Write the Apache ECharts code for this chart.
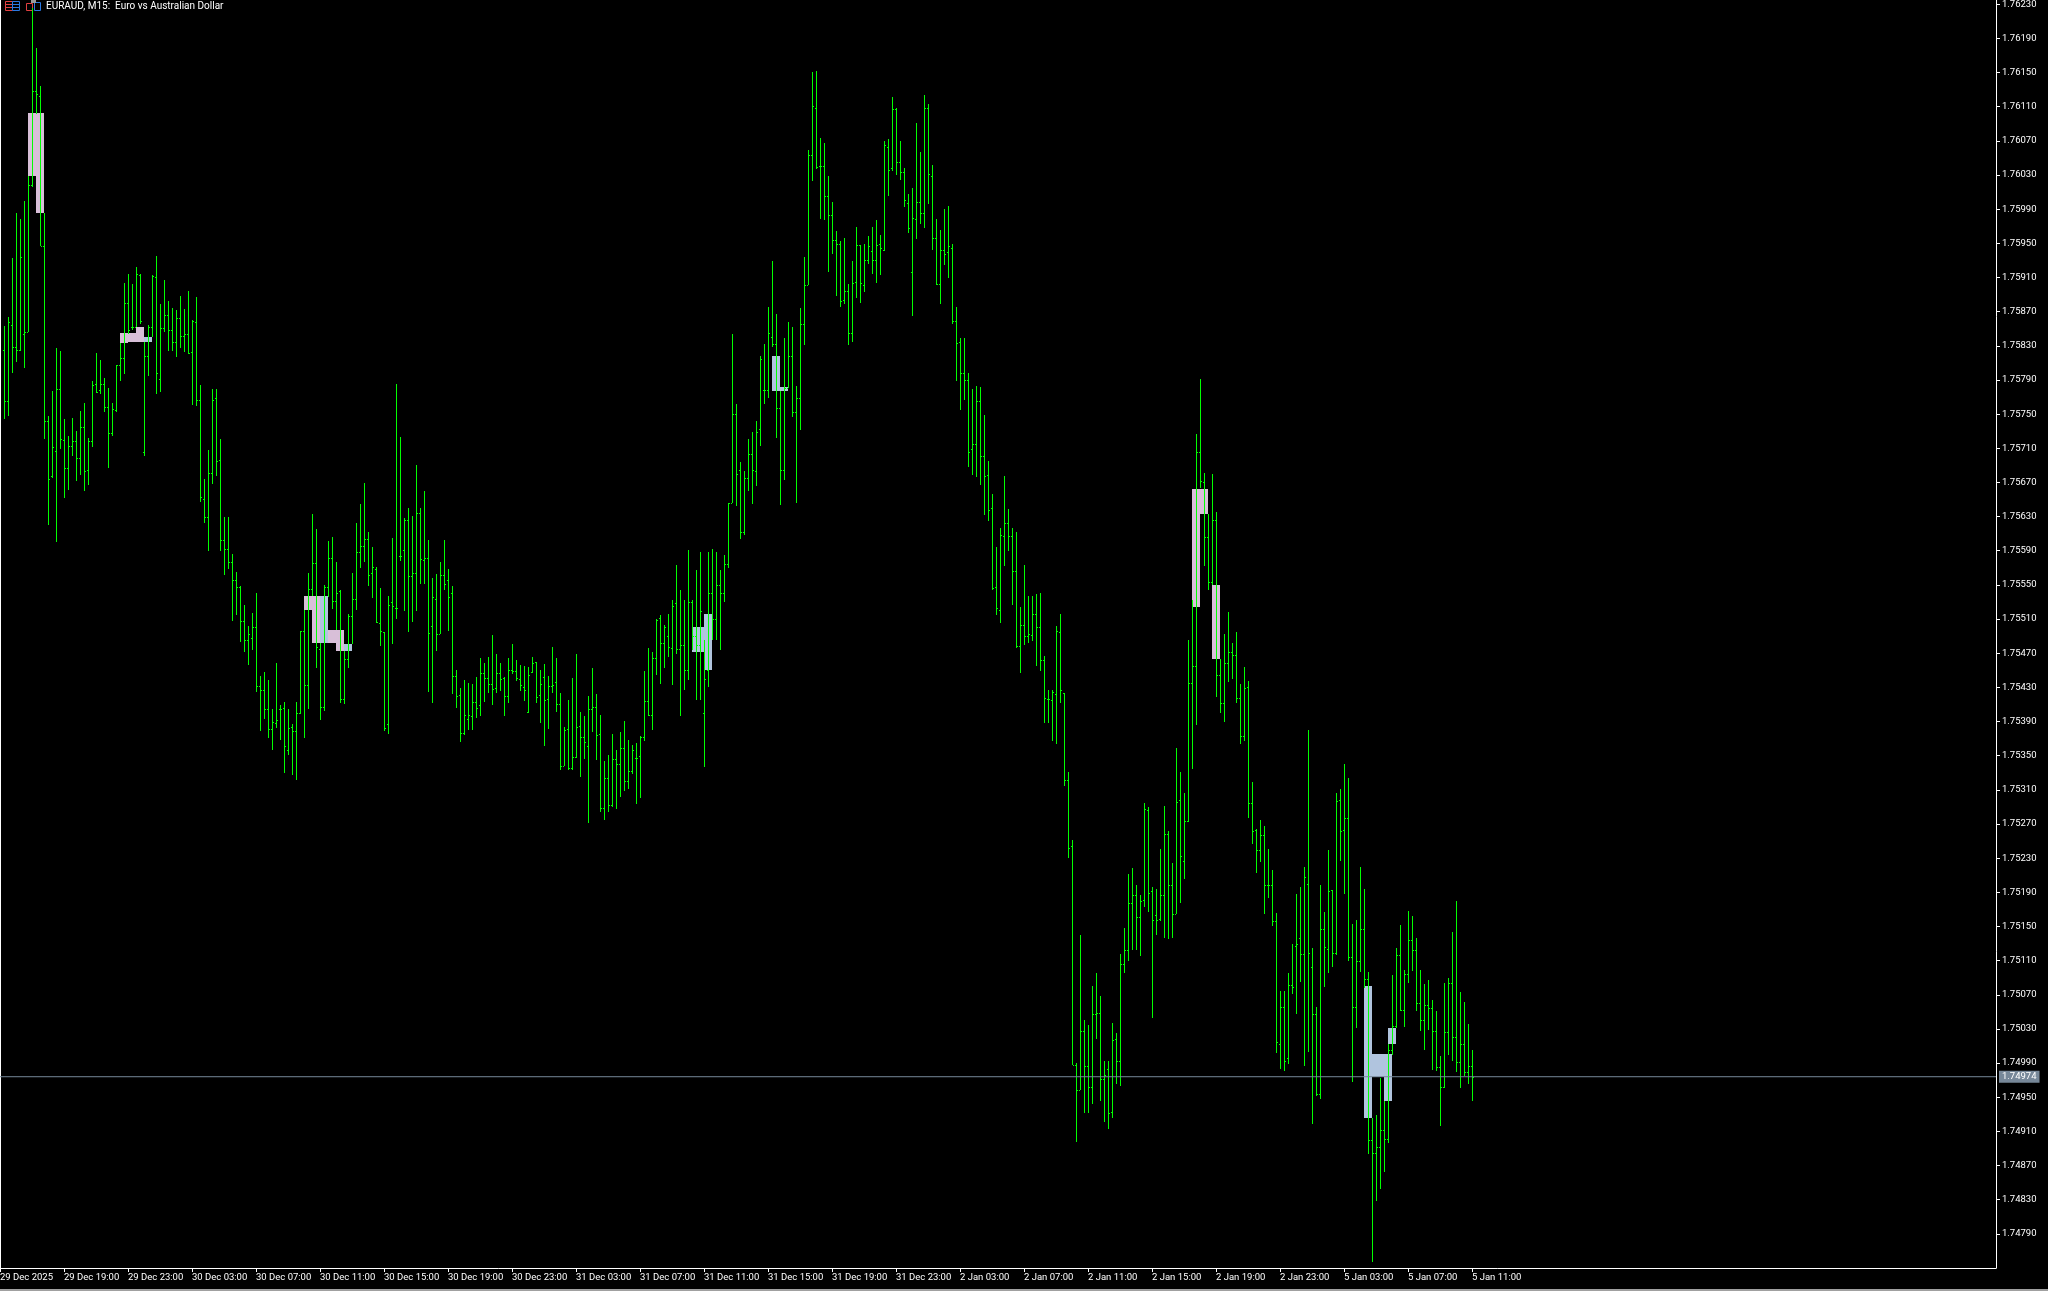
<!DOCTYPE html>
<html><head><meta charset="utf-8">
<style>html,body{margin:0;padding:0;background:#000}#c{width:2048px;height:1291px}</style>
<script src="https://cdn.jsdelivr.net/npm/echarts@6/dist/echarts.min.js"></script>
</head><body><div id="c"></div>
<script>
// Values are in points above 1.74000 (1 point = 0.00001), first entry is the bar after the one under the left edge.
const highs=[
1853,1864,1933,1986,1979,2000,2029,2226,2179,2134,
1985,1748,1777,1828,1824,1744,1724,1746,1730,1754,
1763,1722,1789,1822,1813,1792,1781,1763,1808,1833,
1904,1914,1902,1922,1914,1834,1854,1913,1935,1879,
1907,1882,1874,1872,1888,1873,1894,1860,1887,1784,
1674,1708,1779,1779,1721,1630,1629,1586,1565,1549,
1526,1502,1517,1540,1443,1448,1439,1405,1459,1409,
1413,1405,1387,1413,1496,1521,1564,1633,1616,1482,
1550,1601,1606,1577,1544,1473,1516,1564,1622,1645,
1669,1612,1594,1571,1546,1495,1537,1605,1785,1723,
1628,1640,1631,1691,1640,1660,1603,1558,1563,1577,
1603,1569,1549,1450,1429,1439,1435,1434,1442,1464,
1459,1466,1491,1469,1459,1442,1464,1481,1462,1456,
1455,1454,1466,1460,1450,1457,1443,1477,1464,1423,
1383,1415,1441,1469,1401,1397,1420,1453,1422,1398,
1344,1351,1375,1357,1378,1391,1368,1363,1365,1373,
1449,1476,1471,1510,1515,1503,1516,1532,1573,1544,
1532,1591,1532,1567,1589,1485,1589,1592,1589,1567,
1585,1646,1844,1762,1694,1683,1721,1729,1742,1818,
1832,1875,1929,1867,1777,1839,1858,1852,1783,1874,
1934,2059,2151,2152,2073,2068,2029,1998,1964,1953,
1956,1902,1929,1969,1948,1949,1959,1969,1977,1960,
2070,2072,2121,2109,2070,2038,2008,2015,2091,2057,
2124,2113,2042,1979,1966,1990,1994,1949,1875,1839,
1839,1798,1779,1783,1782,1749,1695,1656,1594,1617,
1678,1639,1617,1612,1524,1573,1537,1537,1539,1541,
1467,1427,1427,1502,1516,1423,1331,1251,990,1140,
1041,1035,1080,1096,1069,993,993,1037,1025,1118,
1148,1211,1218,1199,1187,1295,1290,1196,1194,1241,
1291,1262,1224,1359,1331,1306,1486,1532,1727,1791,
1681,1633,1680,1635,1463,1493,1518,1482,1495,1434,
1454,1438,1319,1264,1275,1268,1241,1216,1166,1074,
1074,1096,1129,1188,1196,1220,1380,1125,1056,1198,
1167,1239,1193,1306,1311,1340,1324,1153,1157,1220,
1194,1097,926,929,973,946,1012,1093,1125,1152,
1099,1168,1162,1137,1099,1083,1087,1064,1051,998,
1084,1090,1144,1180,1073,1061,1036,1005];
const lows=[
1744,1748,1798,1811,1824,1804,1846,2016,2101,1947,
1721,1620,1675,1600,1709,1652,1661,1701,1672,1679,
1660,1667,1711,1775,1774,1752,1687,1724,1752,1789,
1797,1844,1849,1852,1856,1701,1795,1840,1774,1776,
1846,1824,1824,1817,1828,1823,1820,1761,1759,1647,
1623,1590,1668,1677,1590,1562,1569,1508,1515,1483,
1471,1456,1474,1425,1379,1393,1371,1357,1382,1368,
1330,1351,1327,1322,1399,1371,1405,1537,1453,1392,
1402,1536,1522,1497,1412,1411,1453,1481,1521,1570,
1577,1549,1535,1505,1478,1379,1375,1481,1510,1578,
1519,1495,1507,1519,1551,1551,1425,1412,1473,1493,
1544,1496,1422,1406,1366,1374,1380,1380,1394,1397,
1413,1423,1409,1423,1426,1397,1412,1446,1438,1426,
1414,1400,1447,1412,1388,1361,1381,1423,1401,1333,
1338,1333,1333,1347,1325,1346,1271,1378,1345,1284,
1275,1284,1290,1288,1302,1309,1311,1329,1293,1300,
1367,1397,1380,1445,1434,1453,1465,1433,1469,1396,
1427,1439,1474,1415,1415,1337,1430,1485,1485,1474,
1530,1570,1646,1642,1604,1609,1660,1645,1666,1713,
1762,1769,1829,1722,1644,1673,1781,1747,1646,1731,
1831,1901,2023,2037,1979,1977,1916,1938,1888,1875,
1879,1831,1834,1886,1880,1893,1926,1914,1904,1913,
1941,2005,2035,2030,2024,1993,1962,1865,1955,1973,
1968,1996,1942,1901,1879,1925,1909,1856,1789,1755,
1767,1688,1679,1676,1667,1632,1625,1544,1515,1505,
1572,1590,1526,1476,1447,1480,1482,1484,1455,1449,
1388,1388,1367,1364,1412,1315,1230,988,897,958,
931,931,942,1018,946,921,913,926,965,963,
1096,1109,1123,1122,1115,1173,1167,1043,1140,1156,
1136,1135,1136,1164,1177,1205,1272,1334,1386,1663,
1572,1544,1550,1419,1400,1390,1436,1440,1412,1364,
1367,1277,1247,1213,1226,1165,1183,1151,1002,983,
981,989,1071,1048,1085,987,1003,919,952,948,
1079,1096,1103,1117,1227,1188,1109,968,1031,1097,
1078,884,757,828,843,863,896,1000,1031,1051,
1032,1084,1098,1051,1028,1005,1029,982,981,916,
961,999,992,980,961,975,965,946];
const opens=[
1825,1765,1854,1829,1825,1844,1846,2018,2129,2122,
1947,1742,1677,1707,1779,1720,1687,1713,1719,1699,
1735,1685,1718,1785,1778,1785,1758,1728,1755,1808,
1816,1880,1852,1852,1913,1706,1818,1852,1911,1791,
1851,1866,1848,1835,1862,1841,1844,1823,1858,1766,
1651,1629,1681,1769,1696,1603,1592,1577,1556,1548,
1508,1485,1488,1501,1432,1427,1405,1381,1388,1405,
1406,1357,1383,1379,1400,1496,1433,1545,1576,1475,
1407,1547,1582,1531,1543,1416,1463,1513,1534,1589,
1595,1604,1564,1569,1505,1495,1387,1530,1523,1584,
1591,1626,1561,1564,1634,1579,1582,1502,1534,1493,
1562,1556,1540,1443,1421,1376,1393,1396,1413,1409,
1447,1441,1434,1429,1447,1441,1420,1450,1449,1440,
1430,1401,1448,1460,1421,1442,1416,1432,1436,1410,
1338,1381,1336,1349,1385,1372,1361,1405,1407,1375,
1289,1324,1292,1346,1340,1359,1320,1332,1347,1350,
1372,1414,1398,1464,1511,1482,1490,1476,1529,1475,
1480,1450,1530,1490,1480,1400,1450,1540,1510,1550,
1540,1575,1646,1750,1685,1612,1675,1703,1683,1733,
1778,1778,1840,1832,1757,1684,1781,1818,1752,1769,
1856,1901,2053,2108,2041,2041,2006,1983,1954,1949,
1884,1894,1845,1905,1948,1901,1930,1941,1931,1949,
1942,2063,2038,2107,2045,2034,1997,1917,1979,1999,
1985,2109,2029,1956,1902,1942,1940,1944,1859,1834,
1798,1790,1709,1715,1765,1701,1679,1640,1547,1521,
1607,1623,1607,1566,1478,1503,1490,1491,1516,1501,
1462,1416,1415,1422,1495,1423,1321,1244,988,958,
1028,986,962,1048,1049,971,983,933,1018,993,
1106,1122,1178,1187,1161,1181,1286,1191,1163,1159,
1187,1258,1199,1164,1298,1227,1273,1435,1455,1706,
1671,1606,1553,1626,1444,1412,1458,1471,1468,1417,
1373,1430,1295,1263,1240,1257,1199,1199,1156,1012,
1056,996,1082,1127,1137,1118,1200,1103,1047,954,
1147,1124,1193,1119,1298,1263,1277,1114,1056,1110,
1147,1089,900,885,892,912,901,1005,1034,1116,
1052,1094,1134,1122,1060,1041,1058,1055,1028,985,
962,1026,1084,1021,991,1012,980,987];
const closes=[
1765,1858,1829,1825,1934,1846,2018,2129,2125,1947,
1742,1674,1712,1779,1721,1687,1713,1719,1699,1735,
1683,1718,1784,1776,1785,1758,1728,1756,1808,1816,
1880,1848,1852,1914,1859,1818,1852,1912,1798,1851,
1866,1848,1835,1862,1841,1844,1822,1859,1766,1653,
1630,1681,1767,1695,1603,1592,1577,1556,1547,1508,
1486,1493,1501,1432,1427,1405,1381,1390,1392,1405,
1361,1382,1379,1400,1496,1433,1545,1576,1477,1407,
1547,1582,1531,1541,1416,1463,1513,1534,1589,1595,
1604,1562,1571,1506,1496,1382,1526,1525,1523,1584,
1626,1561,1564,1634,1580,1582,1494,1536,1493,1562,
1551,1536,1443,1420,1376,1398,1398,1413,1406,1447,
1441,1434,1428,1447,1440,1420,1450,1449,1441,1433,
1427,1445,1459,1419,1434,1415,1432,1433,1410,1338,
1380,1335,1349,1384,1372,1366,1405,1407,1374,1289,
1324,1292,1346,1340,1359,1320,1332,1357,1347,1372,
1414,1398,1464,1509,1482,1501,1477,1525,1475,1480,
1450,1530,1490,1480,1520,1440,1540,1510,1550,1540,
1575,1646,1750,1680,1612,1675,1703,1684,1729,1815,
1778,1845,1832,1757,1684,1781,1818,1752,1769,1856,
1901,2053,2111,2040,2041,2006,1983,1954,1949,1882,
1894,1845,1904,1948,1903,1930,1947,1931,1948,1944,
2065,2036,2107,2045,2033,2001,1968,1980,1999,1985,
2109,2031,1956,1902,1942,1938,1947,1859,1833,1798,
1790,1706,1715,1765,1701,1678,1638,1546,1523,1608,
1623,1607,1566,1479,1503,1490,1492,1516,1501,1462,
1417,1416,1424,1496,1427,1321,1242,988,958,1028,
986,962,1048,1049,971,976,931,1017,993,1106,
1122,1178,1187,1161,1180,1287,1189,1158,1158,1187,
1258,1199,1164,1296,1232,1273,1435,1455,1706,1672,
1606,1553,1626,1444,1412,1458,1472,1468,1417,1373,
1429,1295,1262,1240,1257,1199,1199,1156,1015,1056,
993,1082,1079,1129,1118,1208,1119,1047,954,1147,
1126,1192,1119,1297,1262,1277,1114,1056,1110,1147,
1088,900,885,892,912,901,1005,1034,1116,1052,
1094,1134,1122,1060,1041,1058,1055,1028,985,962,
1026,1084,1021,991,1012,980,987,974];
// Shaded boxes: bar index, upper and lower price in points, kind (t = thistle, b = steel blue)
const boxBars=[8,10,31,33,35,37,77,79,81,83,85,87,174,175,177,194,196,299,301,304,342,344,345,347,348];
const boxTops=[2103,2103,1845,1845,1852,1840,1537,1537,1537,1497,1497,1481,1501,1501,1516,1818,1782,1662,1662,1550,1080,1001,1001,1001,1031];
const boxBottoms=[2029,1985,1833,1834,1834,1834,1521,1482,1482,1482,1473,1473,1471,1471,1450,1777,1777,1524,1633,1463,926,974,974,946,1012];
const boxKinds=['t','t','t','t','t','b','t','t','b','t','t','b','b','b','b','b','b','t','t','t','b','b','b','b','b'];
const timeLabels=['29 Dec 2025','29 Dec 19:00','29 Dec 23:00','30 Dec 03:00','30 Dec 07:00','30 Dec 11:00','30 Dec 15:00','30 Dec 19:00','30 Dec 23:00','31 Dec 03:00','31 Dec 07:00','31 Dec 11:00','31 Dec 15:00','31 Dec 19:00','31 Dec 23:00','2 Jan 03:00','2 Jan 07:00','2 Jan 11:00','2 Jan 15:00','2 Jan 19:00','2 Jan 23:00','5 Jan 03:00','5 Jan 07:00','5 Jan 11:00'];
const priceTicks=[1.76230,1.76190,1.76150,1.76110,1.76070,1.76030,1.75990,1.75950,1.75910,1.75870,1.75830,1.75790,1.75750,1.75710,1.75670,1.75630,1.75590,1.75550,1.75510,1.75470,1.75430,1.75390,1.75350,1.75310,1.75270,1.75230,1.75190,1.75150,1.75110,1.75070,1.75030,1.74990,1.74950,1.74910,1.74870,1.74830,1.74790];
const lastPrice=1.74974;
const title='EURAUD, M15:  Euro vs Australian Dollar';

const BASE=1.74, P=v=>BASE+v/100000;
const slots=500, step=16;
const categories=Array.from({length:slots},(_,i)=>i%step===0&&timeLabels[i/step]?timeLabels[i/step]:'');
const showTick=i=>i%step===0&&i/step<timeLabels.length;
const barData=highs.map((h,i)=>[i+1,P(opens[i]),P(h),P(lows[i]),P(closes[i])]);
const boxData=boxBars.map((k,i)=>[k,P(boxTops[i]),P(boxBottoms[i]),boxKinds[i]]);
const GREEN='#00ff00', FONT='Roboto';
const chart=echarts.init(document.getElementById('c'),null,{renderer:'canvas'});
function px(r,color){return {type:'rect',shape:r,style:{fill:color},silent:true};}
chart.setOption({
 backgroundColor:'#000',animation:false,
 grid:{left:0,top:0,width:1996,height:1268,containLabel:false,outerBoundsMode:'none'},
 xAxis:{type:'category',data:categories,boundaryGap:false,
  axisLine:{show:true,lineStyle:{color:'#fff',width:1}},
  axisTick:{show:true,length:4,interval:(i)=>showTick(i),lineStyle:{color:'#fff'}},
  axisLabel:{interval:(i)=>showTick(i),color:'#fff',fontFamily:FONT,fontSize:9.5,align:'left',margin:5,hideOverlap:false},
  splitLine:{show:false}},
 yAxis:{type:'value',position:'right',min:1.7475,max:1.76235,scale:true,
  axisLine:{show:true,lineStyle:{color:'#fff',width:1}},
  axisTick:{show:true,length:4,customValues:priceTicks,lineStyle:{color:'#fff'}},
  axisLabel:{customValues:priceTicks,color:'#fff',fontFamily:FONT,fontSize:9.5,margin:6,align:'left',formatter:v=>(+v).toFixed(5)},
  splitLine:{show:false}},
 graphic:[
  {type:'rect',shape:{x:0,y:0,width:1,height:1268},style:{fill:'#fff'},silent:true},
  {type:'rect',shape:{x:0,y:1289,width:2048,height:2},style:{fill:'#a0a0a0'},silent:true},
  {type:'rect',shape:{x:5.5,y:1.5,width:7,height:9},style:{fill:'#000',stroke:'#e04040'},silent:true},
  {type:'rect',shape:{x:12.5,y:1.5,width:7,height:9},style:{fill:'#000',stroke:'#2a78e0'},silent:true},
  {type:'rect',shape:{x:5,y:4,width:7,height:1},style:{fill:'#e04040'},silent:true},
  {type:'rect',shape:{x:5,y:7,width:7,height:1},style:{fill:'#e04040'},silent:true},
  {type:'rect',shape:{x:13,y:4,width:7,height:1},style:{fill:'#2a78e0'},silent:true},
  {type:'rect',shape:{x:13,y:7,width:7,height:1},style:{fill:'#2a78e0'},silent:true},
  {type:'rect',shape:{x:26.5,y:3.5,width:6,height:7},style:{fill:'#000',stroke:'#e04040'},silent:true},
  {type:'rect',shape:{x:34.5,y:2.5,width:6,height:8},style:{fill:'#000',stroke:'#2a78e0'},silent:true},
  {type:'rect',shape:{x:31,y:0,width:5,height:3},style:{fill:'#9a9a9a'},silent:true},
  {type:'text',x:46,y:6,style:{text:title,fill:'#fff',font:'10px '+FONT,textVerticalAlign:'middle'},silent:true}
 ],
 series:[
  {type:'custom',coordinateSystem:'cartesian2d',z:1,silent:true,clip:true,encode:{x:0,y:[1,2]},data:boxData,
   renderItem:(p,api)=>{
    const k=api.value(0);
    const a=api.coord([k-1,api.value(1)]), b=api.coord([k+1,api.value(2)]);
    const y0=Math.round(a[1]), y1=Math.round(b[1]);
    const kind=boxData[p.dataIndex][3];
    return px({x:a[0],y:y0,width:b[0]-a[0],height:y1-y0},kind==='t'?'#d8bfd8':'#b0c4de');
   }},
  {type:'custom',coordinateSystem:'cartesian2d',z:2,silent:true,clip:true,encode:{x:0,y:[1,2,3,4]},data:barData,
   renderItem:(p,api)=>{
    const k=api.value(0);
    const x=Math.round(api.coord([k,api.value(2)])[0]);
    const yh=Math.round(api.coord([k,api.value(2)])[1]);
    const yl=Math.round(api.coord([k,api.value(3)])[1]);
    const yo=Math.round(api.coord([k,api.value(1)])[1]);
    const yc=Math.round(api.coord([k,api.value(4)])[1]);
    return {type:'group',children:[
     px({x:x,y:yh,width:1,height:Math.max(1,yl-yh)},GREEN),
     px({x:x-1,y:yo,width:1,height:1},GREEN),
     px({x:x+1,y:yc,width:1,height:1},GREEN)
    ]};
   }},
  {type:'line',z:3,silent:true,symbol:'none',showSymbol:false,clip:false,animation:false,
   data:[[0,lastPrice],[slots-1,lastPrice]],
   lineStyle:{color:'#778899',width:1},
   endLabel:{show:true,distance:3,formatter:()=>lastPrice.toFixed(5),color:'#fff',backgroundColor:'#778899',padding:[1,3,1,3],fontFamily:FONT,fontSize:9.5}}
 ]
});
</script></body></html>
